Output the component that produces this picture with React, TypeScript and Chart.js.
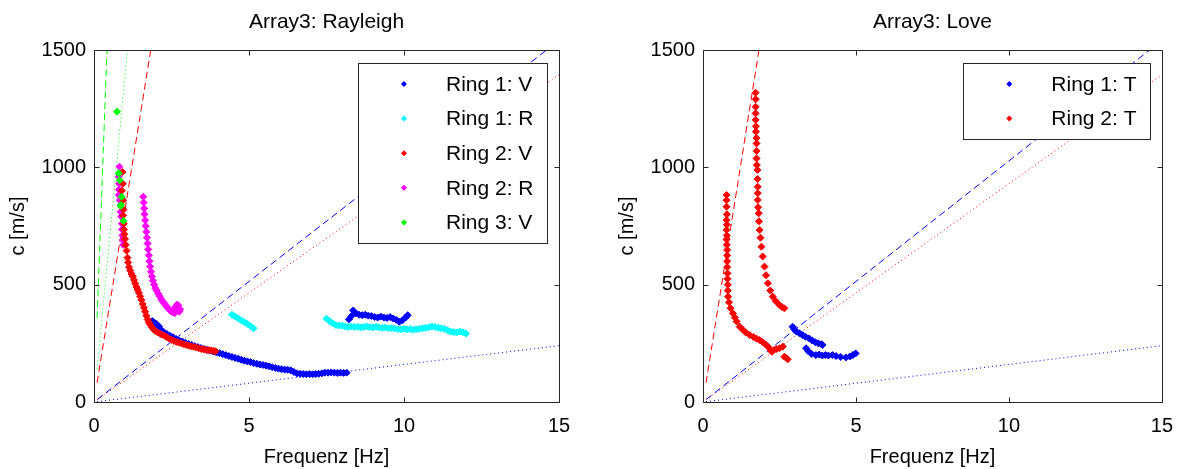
import React, { useEffect, useRef } from 'react';
import { Chart, registerables } from 'chart.js';

Chart.register(...registerables);

type P = [number, number];

// ---------- axis settings ----------
const xTicks = [0, 5, 10, 15];
const yTicks = [0, 500, 1000, 1500];
const titles = ['Array3: Rayleigh', 'Array3: Love'];
const xLabel = 'Frequenz [Hz]';
const yLabel = 'c [m/s]';

// ---------- Rayleigh (left) ----------
const rayRing1V: P[] = [
  [1.88, 345], [1.95, 338], [2.02, 332], [2.1, 322], [2.18, 305], [2.25, 298], [2.35, 290], [2.45, 282],
  [2.55, 276], [2.65, 268], [2.75, 262], [2.85, 258], [2.95, 252], [3.05, 247], [3.15, 243], [3.25, 238],
  [3.35, 234], [3.45, 230], [3.55, 226], [3.65, 222], [3.75, 219], [3.85, 215], [3.95, 211], [4.05, 208],
  [4.15, 204], [4.25, 200], [4.35, 196], [4.45, 192], [4.55, 188], [4.65, 184], [4.75, 180], [4.85, 176],
  [4.95, 173], [5.05, 170], [5.15, 166], [5.25, 163], [5.35, 160], [5.45, 158], [5.55, 155], [5.65, 152],
  [5.75, 148], [5.85, 145], [5.95, 142], [6.05, 140], [6.15, 138], [6.25, 137], [6.35, 135], [6.45, 128],
  [6.55, 122], [6.65, 120], [6.75, 119], [6.85, 118], [6.95, 119], [7.05, 118], [7.15, 119], [7.25, 120],
  [7.35, 122], [7.45, 125], [7.55, 125], [7.65, 126], [7.75, 125], [7.85, 124], [7.95, 125], [8.05, 124],
  [8.15, 125],
  [8.22, 352], [8.3, 365], [8.36, 390], [8.45, 378], [8.55, 372], [8.65, 370], [8.75, 372], [8.85, 368],
  [8.95, 366], [9.05, 362], [9.15, 360], [9.25, 364], [9.35, 360], [9.45, 358], [9.55, 362], [9.65, 356],
  [9.75, 350], [9.85, 342], [9.95, 348], [10.05, 360], [10.12, 370],
];
const rayRing1R: P[] = [
  [4.45, 372], [4.55, 365], [4.65, 356], [4.75, 348], [4.85, 340], [4.95, 332], [5.05, 323], [5.15, 314],
  [7.5, 355], [7.6, 345], [7.7, 335], [7.8, 328], [7.9, 326], [8.0, 325], [8.1, 322], [8.2, 320],
  [8.3, 322], [8.4, 320], [8.5, 321], [8.6, 318], [8.7, 320], [8.8, 322], [8.9, 319], [9.0, 318],
  [9.1, 321], [9.2, 317], [9.3, 316], [9.4, 318], [9.5, 314], [9.6, 315], [9.7, 313], [9.8, 311],
  [9.9, 310], [10.0, 312], [10.1, 309], [10.2, 311], [10.3, 308], [10.4, 310], [10.5, 312], [10.6, 314],
  [10.7, 316], [10.8, 318], [10.9, 322], [11.0, 320], [11.1, 316], [11.2, 314], [11.3, 312], [11.4, 306],
  [11.5, 300], [11.6, 298], [11.7, 296], [11.8, 300], [11.9, 297], [12.0, 292],
];
const rayRing2V: P[] = [
  [0.92, 980], [0.93, 930], [0.9, 900], [0.94, 860], [0.95, 820], [0.94, 795], [0.96, 760], [0.97, 735],
  [0.98, 715], [1.0, 695], [1.02, 670], [1.05, 645], [1.08, 615], [1.1, 595], [1.13, 575], [1.17, 560],
  [1.21, 545], [1.25, 535], [1.29, 520], [1.33, 505], [1.37, 490], [1.41, 478], [1.45, 465], [1.49, 450],
  [1.53, 435], [1.57, 418], [1.61, 402], [1.65, 385], [1.69, 368], [1.73, 352], [1.77, 340], [1.81, 330],
  [1.87, 318], [1.93, 308], [2.0, 300], [2.07, 296], [2.14, 290], [2.21, 287], [2.28, 282], [2.35, 276],
  [2.42, 270], [2.5, 265], [2.58, 260], [2.66, 256], [2.74, 253], [2.82, 250], [2.9, 246], [2.98, 243],
  [3.06, 240], [3.14, 237], [3.22, 235], [3.3, 232], [3.38, 229], [3.46, 226], [3.54, 224], [3.62, 222],
  [3.7, 221], [3.78, 220], [3.86, 218], [3.92, 216],
];
const rayRing2R: P[] = [
  [0.82, 1003], [0.8, 960], [0.81, 930], [0.8, 905], [0.8, 882], [0.83, 860], [0.86, 840], [0.86, 811],
  [0.88, 790], [0.9, 760], [0.9, 735], [0.92, 710], [0.93, 690], [0.94, 670],
  [1.59, 875], [1.6, 850], [1.62, 825], [1.63, 800], [1.65, 775], [1.67, 750], [1.69, 725], [1.71, 700],
  [1.73, 675], [1.75, 650], [1.77, 625], [1.79, 600], [1.81, 577], [1.84, 555], [1.87, 535], [1.9, 517],
  [1.94, 500], [1.98, 485], [2.02, 475], [2.07, 462], [2.12, 450], [2.17, 438], [2.22, 428], [2.27, 420],
  [2.32, 410], [2.37, 402], [2.42, 395], [2.47, 388], [2.52, 384], [2.57, 382], [2.62, 385], [2.67, 392],
  [2.7, 400], [2.72, 412], [2.68, 415], [2.62, 405], [2.75, 385], [2.78, 395], [2.6, 378],
];
const rayRing3V: P[] = [
  [0.74, 1237], [0.8, 975], [0.83, 945], [0.89, 875], [0.87, 840], [0.86, 835], [0.95, 772],
];

// reference lines (start / end points)
const rayGreenDashed: P[] = [[0.1, 357], [0.42, 1500]];
const rayGreenDotted: P[] = [[0.1, 139], [1.08, 1500]];
const redDashed: P[] = [[0.1, 82], [1.83, 1500]];
const redDotted: P[] = [[0.1, 9.3], [15, 1395]];
const blueDashed: P[] = [[0.1, 10.3], [14.6, 1500]];
const blueDotted: P[] = [[0.1, 1.6], [15, 240]];

// ---------- Love (right) ----------
const loveRing1T: P[] = [
  [2.93, 321], [2.98, 310], [3.05, 300], [3.15, 293], [3.25, 285], [3.35, 278], [3.47, 271], [3.57, 262],
  [3.67, 255], [3.77, 250], [3.87, 246], [3.91, 243],
  [3.37, 229], [3.45, 215], [3.55, 205], [3.69, 200], [3.8, 202], [3.9, 198], [4.0, 200], [4.1, 198],
  [4.23, 200], [4.35, 196], [4.5, 192], [4.67, 190], [4.8, 194], [4.9, 200], [4.99, 207],
];
const loveRing2T: P[] = [
  [0.77, 882], [0.77, 860], [0.77, 832], [0.78, 800], [0.77, 775], [0.78, 755], [0.77, 733], [0.78, 710],
  [0.77, 693], [0.78, 670], [0.79, 648], [0.79, 625], [0.79, 600], [0.79, 575], [0.8, 548], [0.8, 525],
  [0.81, 500], [0.81, 475], [0.82, 449], [0.85, 425], [0.9, 400], [0.98, 378], [1.04, 360], [1.1, 343],
  [1.2, 321], [1.3, 308], [1.4, 296], [1.53, 285], [1.65, 277], [1.75, 270], [1.85, 264], [1.95, 255],
  [2.05, 245], [2.12, 236], [2.2, 222], [2.25, 214], [2.32, 222], [2.4, 226], [2.5, 229], [2.61, 236],
  [2.66, 193], [2.72, 188], [2.77, 182],
  [1.72, 1318], [1.72, 1290], [1.72, 1258], [1.72, 1230], [1.72, 1202], [1.73, 1175], [1.73, 1152],
  [1.75, 1125], [1.75, 1102], [1.75, 1070], [1.75, 1038], [1.76, 1010], [1.78, 989], [1.78, 950],
  [1.79, 917], [1.79, 890], [1.79, 861], [1.8, 830], [1.82, 804], [1.83, 770], [1.85, 733], [1.88, 700],
  [1.91, 662], [1.95, 620], [2.01, 577], [2.06, 540], [2.12, 506], [2.2, 475], [2.28, 449], [2.38, 430],
  [2.5, 413], [2.58, 405], [2.66, 399],
];

const BLUE = '#0000ff';
const CYAN = '#00ffff';
const RED = '#ff0000';
const MAGENTA = '#ff00ff';
const GREEN = '#00ff00';

const FONT = "'Liberation Sans', Arial, Helvetica, sans-serif";

const xy = (a: P[]) => a.map(([x, y]) => ({ x, y }));

const scatter = (label: string, data: P[], color: string, order: number) => ({
  type: 'scatter' as const,
  label,
  data: xy(data),
  inLegend: true,
  backgroundColor: color,
  borderColor: color,
  pointStyle: 'rectRot',
  pointRadius: 3.5,
  borderWidth: 1,
  showLine: false,
  order,
});

const refLine = (data: P[], color: string, dotted: boolean) => ({
  type: 'line' as const,
  label: '',
  data: xy(data),
  inLegend: false,
  borderColor: color,
  borderWidth: 1,
  borderDash: dotted ? [1, 3] : [7, 4],
  pointRadius: 0,
  fill: false,
  showLine: true,
  order: 10,
});

const framePlugin = {
  id: 'frame',
  afterDraw(chart: any) {
    const { ctx, chartArea: a, scales } = chart;
    const sx = scales.x;
    const sy = scales.y;
    const opts = chart.options.plugins.frame || {};
    ctx.save();

    // title centred over the plot area
    ctx.fillStyle = '#000000';
    ctx.font = `21px ${FONT}`;
    ctx.textAlign = 'center';
    ctx.textBaseline = 'middle';
    ctx.fillText(opts.title || '', (a.left + a.right) / 2, 22);

    ctx.strokeStyle = '#262626';
    ctx.lineWidth = 1;
    const L = Math.round(a.left) + 0.5;
    const R = Math.round(a.right) + 0.5;
    const T = Math.round(a.top) + 0.5;
    const B = Math.round(a.bottom) + 0.5;
    ctx.beginPath();
    ctx.rect(L, T, R - L, B - T);
    const tl = 5;
    xTicks.forEach((v) => {
      const px = Math.round(sx.getPixelForValue(v)) + 0.5;
      ctx.moveTo(px, B);
      ctx.lineTo(px, B - tl);
      ctx.moveTo(px, T);
      ctx.lineTo(px, T + tl);
    });
    yTicks.forEach((v) => {
      const py = Math.round(sy.getPixelForValue(v)) + 0.5;
      ctx.moveTo(L, py);
      ctx.lineTo(L + tl, py);
      ctx.moveTo(R, py);
      ctx.lineTo(R - tl, py);
    });
    ctx.stroke();

    // legend
    const items = chart.data.datasets.filter((d: any) => d.inLegend);
    ctx.font = `21px ${FONT}`;
    let maxW = 0;
    items.forEach((d: any) => {
      maxW = Math.max(maxW, ctx.measureText(d.label).width);
    });
    const rowH = 34.6;
    const boxR = Math.round(a.right - 12) + 0.5;
    const boxT = Math.round(a.top + 13) + 0.5;
    const textX = boxR - 14 - maxW;
    const markX = textX - 42;
    const boxL = Math.round(markX - 46) + 0.5;
    const boxH = Math.round(items.length * rowH + 7);
    ctx.fillStyle = '#ffffff';
    ctx.fillRect(boxL, boxT, boxR - boxL, boxH);
    ctx.strokeStyle = '#262626';
    ctx.strokeRect(boxL, boxT, boxR - boxL, boxH);
    ctx.textBaseline = 'middle';
    ctx.textAlign = 'left';
    items.forEach((d: any, i: number) => {
      const cy = boxT + 20.5 + i * rowH;
      ctx.fillStyle = d.backgroundColor;
      ctx.beginPath();
      ctx.moveTo(markX, cy - 3);
      ctx.lineTo(markX + 3, cy);
      ctx.lineTo(markX, cy + 3);
      ctx.lineTo(markX - 3, cy);
      ctx.closePath();
      ctx.fill();
      ctx.fillStyle = '#000000';
      ctx.fillText(d.label, textX, cy + 1);
    });
    ctx.restore();
  },
};

function makeOptions(title: string, padLeft: number, padRight: number): any {
  return {
    responsive: false,
    animation: false,
    events: [],
    layout: { padding: { left: padLeft, right: padRight, top: 50, bottom: 0 } },
    plugins: {
      legend: { display: false },
      tooltip: { enabled: false },
      title: { display: false },
      frame: { title },
    },
    scales: {
      x: {
        type: 'linear',
        min: 0,
        max: 15,
        grid: { display: false, drawTicks: false },
        border: { display: false },
        ticks: {
          stepSize: 5,
          color: '#000',
          padding: 12,
          font: { family: FONT, size: 20 },
          maxRotation: 0,
          callback: (v: number) => String(v),
        },
        title: {
          display: true,
          text: xLabel,
          color: '#000',
          font: { family: FONT, size: 20 },
          padding: { top: 0, bottom: 0 },
        },
        afterFit(scale: any) {
          scale.height = 67;
        },
      },
      y: {
        type: 'linear',
        min: 0,
        max: 1500,
        grid: { display: false, drawTicks: false },
        border: { display: false },
        ticks: {
          stepSize: 500,
          color: '#000',
          padding: 8,
          font: { family: FONT, size: 20 },
          callback: (v: number) => String(v),
        },
        title: {
          display: true,
          text: yLabel,
          color: '#000',
          font: { family: FONT, size: 20 },
          padding: { top: 6, bottom: 0 },
        },
        afterFit(scale: any) {
          scale.width = 94;
        },
      },
    },
  };
}

function Panel(props: { left: number; width: number; title: string; datasets: any[]; padLeft: number; padRight: number }) {
  const ref = useRef<HTMLCanvasElement | null>(null);
  useEffect(() => {
    if (!ref.current) return;
    const chart = new Chart(ref.current, {
      type: 'scatter',
      data: { datasets: props.datasets },
      options: makeOptions(props.title, props.padLeft, props.padRight),
      plugins: [framePlugin],
    } as any);
    return () => chart.destroy();
  }, []);
  return (
    <canvas
      ref={ref}
      width={props.width}
      height={469}
      style={{ position: 'absolute', left: props.left, top: 0, width: props.width, height: 469, display: 'block' }}
    />
  );
}

export default function App() {
  const leftSets = [
    scatter('Ring 1: V', rayRing1V, BLUE, 5),
    scatter('Ring 1: R', rayRing1R, CYAN, 4),
    scatter('Ring 2: V', rayRing2V, RED, 3),
    scatter('Ring 2: R', rayRing2R, MAGENTA, 4.5),
    scatter('Ring 3: V', rayRing3V, GREEN, 1),
    refLine(rayGreenDashed, GREEN, false),
    refLine(rayGreenDotted, GREEN, true),
    refLine(redDashed, RED, false),
    refLine(redDotted, RED, true),
    refLine(blueDashed, BLUE, false),
    refLine(blueDotted, BLUE, true),
  ];
  const rightSets = [
    scatter('Ring 1: T', loveRing1T, BLUE, 5),
    scatter('Ring 2: T', loveRing2T, RED, 3),
    refLine(redDashed, RED, false),
    refLine(redDotted, RED, true),
    refLine(blueDashed, BLUE, false),
    refLine(blueDotted, BLUE, true),
  ];
  return (
    <div style={{ position: 'absolute', left: 0, top: 0, width: 1185, height: 469, background: '#fff', overflow: 'hidden' }}>
      <Panel left={0} width={592} title={titles[0]} datasets={leftSets} padLeft={0} padRight={33} />
      <Panel left={592} width={593} title={titles[1]} datasets={rightSets} padLeft={17} padRight={20} />
    </div>
  );
}
